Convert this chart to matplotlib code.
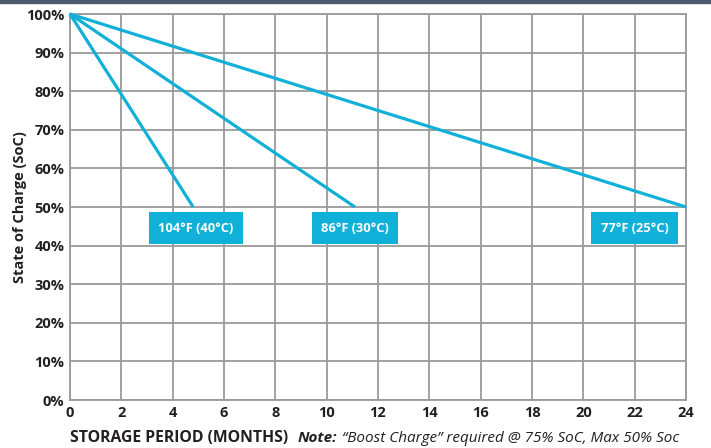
import matplotlib
matplotlib.use("Agg")
import matplotlib.pyplot as plt
from matplotlib.patches import Rectangle

plt.rcParams["font.family"] = ["Open Sans", "DejaVu Sans"]

# data
months_104 = [0, 4.8]
soc_104 = [100, 50]
months_86 = [0, 11.1]
soc_86 = [100, 50]
months_77 = [0, 24]
soc_77 = [100, 50]

labels = ["104°F (40°C)", "86°F (30°C)", "77°F (25°C)"]
label_x = [4.9, 11.1, 22.0]
label_y = [44.5, 44.5, 44.5]

xticks = list(range(0, 25, 2))
yticks = list(range(0, 101, 10))

LINE = "#10b0d8"
GRID = "#9a9a9a"
TXT = "#231f20"

fig = plt.figure(figsize=(7.11, 4.48), dpi=100)
fig.patches.append(Rectangle((0, 1 - 3.5 / 448), 1, 3.5 / 448, transform=fig.transFigure,
                             color="#4b5b6b", zorder=0))
ax = fig.add_axes([70 / 711, 1 - 400 / 448, 616 / 711, 386 / 448])

for xs, ys in [(months_104, soc_104), (months_86, soc_86), (months_77, soc_77)]:
    ax.plot(xs, ys, color=LINE, lw=2.3, solid_capstyle="butt", zorder=3, clip_on=False)

for lab, x, y in zip(labels, label_x, label_y):
    ax.text(x, y, lab, color="white", fontsize=9.3, fontweight="bold", ha="center", va="center",
            zorder=4, bbox=dict(boxstyle="square,pad=0.72", fc=LINE, ec="none"))

ax.set_xlim(0, 24)
ax.set_ylim(0, 100)
ax.set_xticks(xticks)
ax.set_yticks(yticks)
ax.set_yticklabels([f"{v}%" for v in yticks])
ax.grid(True, color=GRID, lw=1.3)
ax.set_axisbelow(True)
for s in ax.spines.values():
    s.set_color(GRID)
    s.set_linewidth(1.3)
ax.tick_params(length=0, pad=4, labelsize=10.5, labelcolor=TXT)
for t in ax.get_xticklabels() + ax.get_yticklabels():
    t.set_fontweight("bold")

fig.text(20 / 711, 1 - 207 / 448, "State of Charge (SoC)", rotation=90, ha="center", va="center",
         fontsize=10.5, fontweight="bold", color=TXT)
fig.text(70 / 711, 1 - 438 / 448, "STORAGE PERIOD (MONTHS)", ha="left", va="center",
         fontsize=11.3, fontweight="bold", color=TXT)
note = fig.text(298 / 711, 1 - 438 / 448, "Note:", ha="left", va="center",
                fontsize=11.0, fontweight="bold", style="italic", color=TXT)
rest = fig.text(0, 0, "\u201cBoost Charge\u201d required @ 75% SoC, Max 50% Soc",
                ha="left", va="center", fontsize=11.0, style="italic", color=TXT)
fig.canvas.draw()
bb = note.get_window_extent()
rest.set_position(((bb.x1 + 5) / fig.bbox.width, 1 - 438 / 448))

fig.savefig("out.png", dpi=100)
